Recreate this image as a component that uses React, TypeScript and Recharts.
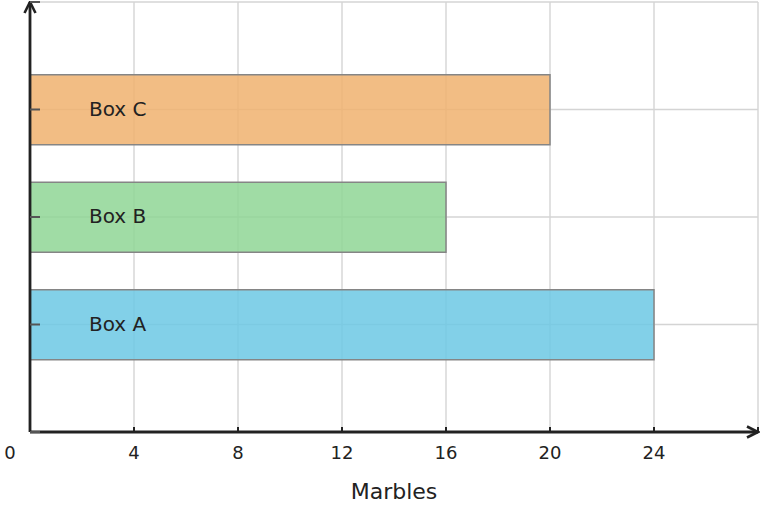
import React from "react";
import { BarChart, Bar, XAxis, YAxis, CartesianGrid, Cell } from "recharts";

const categories = ["Box A", "Box B", "Box C"];
const marbles = [24, 16, 20];
const barColors = ["#6cc8e4", "#8fd695", "#f0b16f"];
const xTicks = [0, 4, 8, 12, 16, 20, 24, 28];
const xLabels = ["0", "4", "8", "12", "16", "20", "24", ""];
const yTicks = [0, 1, 2, 3, 4];

const data = categories.map((name, i) => ({ name, pos: i + 1, value: marbles[i] }));

const FONT = "DejaVu Sans, sans-serif";
const INK = "#222222";

const XTick = (props: any) => {
  const { x, y, payload } = props;
  const v = payload.value;
  const idx = xTicks.indexOf(v);
  const label = idx >= 0 ? xLabels[idx] : String(v);
  if (!label) return null;
  const tx = v === 0 ? x - 20 : x;
  return (
    <g>
      {v !== 0 && <rect x={x - 1} y={y} width={2} height={5} fill={INK} />}
      <text x={tx} y={y + 32} textAnchor="middle" fontSize={18} fontFamily={FONT} fill={INK}>
        {label}
      </text>
    </g>
  );
};

const YTick = (props: any) => {
  const { x, y, payload } = props;
  const v = payload.value;
  const label = categories[v - 1];
  if (!label) return null;
  return (
    <text x={x + 49} y={y + 6} textAnchor="start" fontSize={20} fontFamily={FONT} fill={INK}>
      {label}
    </text>
  );
};

export default function App() {
  return (
    <div style={{ position: "absolute", left: 0, top: 0 }}>
      <BarChart
        width={763}
        height={508}
        data={data}
        layout="vertical"
        margin={{ top: 2, right: 5, bottom: 0, left: 29 }}
      >
        <defs>
          <marker
            id="arrowHead"
            viewBox="0 0 14 14"
            refX="12.5"
            refY="7"
            markerWidth="14"
            markerHeight="14"
            markerUnits="userSpaceOnUse"
            orient="auto-start-reverse"
          >
            <path d="M1.5,1.5 L12.5,7 L1.5,12.5" fill="none" stroke={INK} strokeWidth={2.6} />
          </marker>
        </defs>
        <CartesianGrid stroke="#d4d4d4" strokeWidth={1.4} />
        <Bar
          dataKey="value"
          barSize={70}
          stroke="#858585"
          strokeWidth={1.5}
          fillOpacity={0.85}
          isAnimationActive={false}
        >
          {data.map((d, i) => (
            <Cell key={d.name} fill={barColors[i]} />
          ))}
        </Bar>
        <XAxis
          type="number"
          dataKey="value"
          domain={[0, 28]}
          ticks={xTicks}
          interval={0}
          tickSize={-5}
          tickMargin={0}
          tickLine={{ stroke: INK, strokeWidth: 2 }}
          height={76}
          tick={<XTick />}
          stroke={INK}
          strokeWidth={2.8}
          axisLine={{ stroke: INK, strokeWidth: 2.8, markerEnd: "url(#arrowHead)" } as any}
          label={{ value: "Marbles", position: "insideBottom", offset: 9, fontSize: 22, fontFamily: FONT, fill: INK }}
        />
        <YAxis
          type="number"
          dataKey="pos"
          domain={[0, 4]}
          ticks={yTicks}
          interval={0}
          reversed
          width={1}
          tickSize={-10}
          tickMargin={0}
          tickLine={{ stroke: "#555", strokeWidth: 2 }}
          tick={<YTick />}
          stroke={INK}
          strokeWidth={2.8}
          axisLine={{ stroke: INK, strokeWidth: 2.8, markerStart: "url(#arrowHead)" } as any}
        />
      </BarChart>
    </div>
  );
}
